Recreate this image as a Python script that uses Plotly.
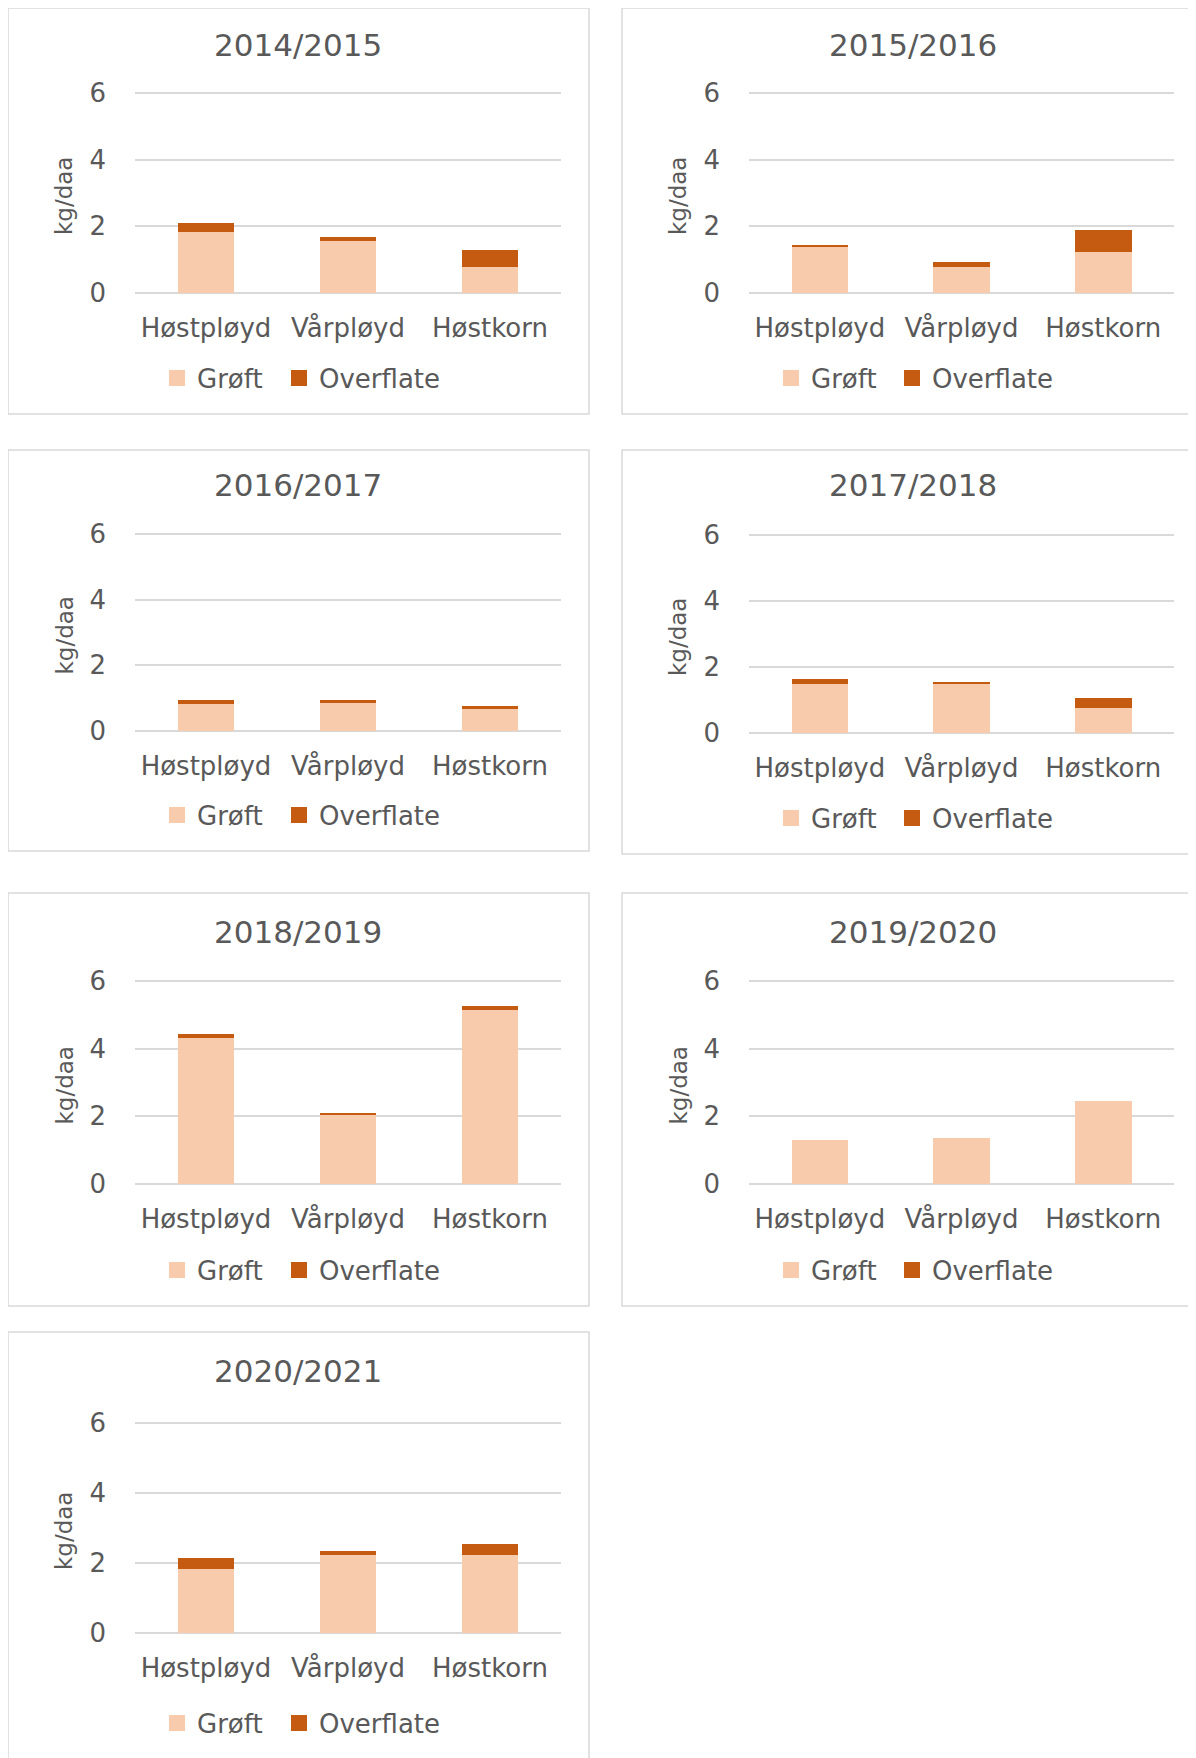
import plotly.graph_objects as go

seasons = ["2014/2015", "2015/2016", "2016/2017", "2017/2018", "2018/2019", "2019/2020", "2020/2021"]
categories = ["Høstpløyd", "Vårpløyd", "Høstkorn"]
series_names = ["Grøft", "Overflate"]

groft_1415 = [1.83, 1.57, 0.77]
overflate_1415 = [0.28, 0.10, 0.51]
groft_1516 = [1.37, 0.79, 1.22]
overflate_1516 = [0.06, 0.13, 0.67]
groft_1617 = [0.81, 0.84, 0.68]
overflate_1617 = [0.12, 0.09, 0.09]
groft_1718 = [1.47, 1.50, 0.77]
overflate_1718 = [0.16, 0.06, 0.28]
groft_1819 = [4.31, 2.04, 5.15]
overflate_1819 = [0.12, 0.07, 0.11]
groft_1920 = [1.30, 1.37, 2.45]
overflate_1920 = [0.0, 0.0, 0.0]
groft_2021 = [1.82, 2.24, 2.24]
overflate_2021 = [0.32, 0.10, 0.29]

y_ticks = [0, 2, 4, 6]
y_label = "kg/daa"

groft_all = [groft_1415, groft_1516, groft_1617, groft_1718, groft_1819, groft_1920, groft_2021]
overflate_all = [overflate_1415, overflate_1516, overflate_1617, overflate_1718,
                 overflate_1819, overflate_1920, overflate_2021]

# ---- layout (pixels in the 1196x1758 page; the page body adds an 8px margin) ----
OFF = 8
W, H = 1196 - OFF, 1758 - OFF
FONT = "DejaVu Sans"
TXT = "#595959"
GRID = "#d9d9d9"
C_GROFT = "#F8CBAD"
C_OVER = "#C55A11"
PAD = 0.06  # range padding so gridlines at 0 and 6 are drawn

col_plot_x = [(135, 561), (749, 1174)]
col_box_x = [(8, 589), (622, 1215)]
col_center = [298, 913]
col_legend_left = [(157, 279), (771, 892)]
# per panel: (col, plot_top, plot_bottom, box_top, box_bottom, title_y, legend_y)
panels = [
    (0, 93, 293, 8, 414, 45, 378),
    (1, 93, 293, 8, 414, 45, 378),
    (0, 534, 731, 450, 851, 485, 815),
    (1, 535, 733, 450, 854, 485, 818),
    (0, 981, 1184, 893, 1306, 932, 1270),
    (1, 981, 1184, 893, 1306, 932, 1270),
    (0, 1423, 1633, 1332, 1800, 1371, 1723),
]

def px_x(v):
    return (v - OFF) / W

def px_y(v):
    return 1 - (v - OFF) / H

fig = go.Figure()
annotations = []
shapes = []
layout_extra = {}

for i, (col, pt, pb, bt, bb, ty, ly) in enumerate(panels):
    n = "" if i == 0 else str(i + 1)
    xa, ya = "x" + n, "y" + n
    fig.add_trace(go.Bar(x=categories, y=groft_all[i], name=series_names[0],
                         marker=dict(color=C_GROFT, line=dict(width=0)),
                         xaxis=xa, yaxis=ya, showlegend=False))
    fig.add_trace(go.Bar(x=categories, y=overflate_all[i], name=series_names[1],
                         marker=dict(color=C_OVER, line=dict(width=0)),
                         xaxis=xa, yaxis=ya, showlegend=False))
    # legend-only entries with larger square swatches, one legend per entry
    for j, (name, colr) in enumerate(zip(series_names, [C_GROFT, C_OVER])):
        k = 2 * i + j + 1
        leg = "legend" if k == 1 else "legend" + str(k)
        fig.add_trace(go.Scatter(x=[None], y=[None], mode="markers", name=name,
                                 marker=dict(symbol="square", size=16, color=colr),
                                 xaxis=xa, yaxis=ya, legend=leg, showlegend=True))
        layout_extra[leg] = dict(
            orientation="h", x=px_x(col_legend_left[col][j]), xanchor="left",
            y=px_y(ly), yanchor="middle",
            font=dict(family=FONT, size=26, color=TXT), bgcolor="rgba(0,0,0,0)",
            itemclick=False, itemdoubleclick=False, itemsizing="trace",
        )
    x0, x1 = col_plot_x[col]
    ppu = (pb - pt) / 6
    layout_extra["xaxis" + n] = dict(
        domain=[px_x(x0), px_x(x1)], anchor=ya, showgrid=False, zeroline=False,
        showline=False, ticks="", tickfont=dict(family=FONT, size=26, color=TXT),
        ticklabelstandoff=15, fixedrange=True, automargin=False,
    )
    layout_extra["yaxis" + n] = dict(
        domain=[px_y(pb + PAD * ppu), px_y(pt - PAD * ppu)], anchor=xa,
        range=[-PAD, 6 + PAD],
        tickvals=y_ticks, showgrid=True, gridcolor=GRID, gridwidth=1.5,
        zeroline=False, showline=False, ticks="",
        tickfont=dict(family=FONT, size=26, color=TXT), ticklabelstandoff=28,
        fixedrange=True, automargin=False,
    )
    bx0, bx1 = col_box_x[col]
    annotations.append(dict(text=seasons[i], x=px_x(col_center[col]), y=px_y(ty),
                            xref="paper", yref="paper",
                            showarrow=False, xanchor="center", yanchor="middle",
                            font=dict(family=FONT, size=31, color=TXT)))
    annotations.append(dict(text=y_label, x=px_x(x0 - 71), y=px_y((pt + pb) / 2 + 3),
                            xref="paper", yref="paper", showarrow=False, textangle=-90,
                            xanchor="center", yanchor="middle",
                            font=dict(family=FONT, size=23, color=TXT)))
    shapes.append(dict(type="rect", xref="paper", yref="paper",
                       x0=px_x(bx0), x1=px_x(bx1), y0=px_y(bb), y1=px_y(bt),
                       line=dict(color=GRID, width=1.5), fillcolor="rgba(0,0,0,0)", layer="below"))

fig.update_layout(
    width=W, height=H, margin=dict(l=0, r=0, t=0, b=0, autoexpand=False),
    paper_bgcolor="white", plot_bgcolor="white",
    barmode="stack", bargap=0.6, showlegend=True,
    annotations=annotations, shapes=shapes,
    font=dict(family=FONT, color=TXT),
    **layout_extra,
)

fig.write_html("out.html")
